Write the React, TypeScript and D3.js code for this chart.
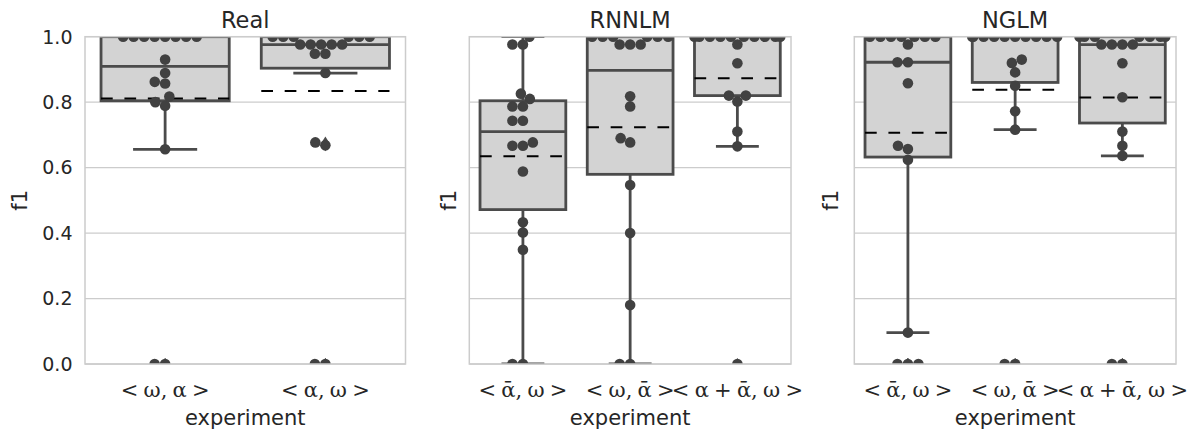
import React from "react";
import * as d3 from "d3";

const W = 1191;
const H = 432;

// ---- tick labels / categories ----
const yTickValues = [0, 0.2, 0.4, 0.6, 0.8, 1.0];
const yTickLabels = ["0.0", "0.2", "0.4", "0.6", "0.8", "1.0"];
const panelTitles = ["Real", "RNNLM", "NGLM"];
const realCategories = ["<\u2005ω,\u2005α\u2005>", "<\u2005α,\u2005ω\u2005>"];
const rnnlmCategories = ["<\u2005ᾱ,\u2005ω\u2005>", "<\u2005ω,\u2005ᾱ\u2005>", "<\u2005α\u2005+\u2005ᾱ,\u2005ω\u2005>"];
const nglmCategories = ["<\u2005ᾱ,\u2005ω\u2005>", "<\u2005ω,\u2005ᾱ\u2005>", "<\u2005α\u2005+\u2005ᾱ,\u2005ω\u2005>"];

// ---- f1 values per run ----
const realOmegaAlpha = [1, 1, 1, 1, 1, 1, 1, 1, 0.93, 0.889, 0.862, 0.857, 0.817, 0.8, 0.789, 0.656, 0, 0];
const realAlphaOmega = [1, 1, 1, 1, 1, 1, 0.976, 0.976, 0.976, 0.976, 0.976, 0.948, 0.948, 0.889, 0.677, 0.668, 0, 0];
const rnnlmAlphaBarOmega = [1, 0.976, 0.976, 0.826, 0.81, 0.787, 0.787, 0.743, 0.743, 0.677, 0.667, 0.667, 0.588, 0.433, 0.402, 0.349, 0, 0];
const rnnlmOmegaAlphaBar = [1, 1, 1, 1, 1, 1, 0.976, 0.976, 0.976, 0.818, 0.787, 0.69, 0.677, 0.547, 0.4, 0.18, 0, 0];
const rnnlmSumOmega = [1, 1, 1, 1, 1, 1, 1, 1, 1, 1, 0.976, 0.919, 0.82, 0.82, 0.802, 0.71, 0.665, 0];
const nglmAlphaBarOmega = [1, 1, 1, 1, 1, 1, 1, 0.976, 0.922, 0.922, 0.858, 0.667, 0.657, 0.624, 0.096, 0, 0, 0];
const nglmOmegaAlphaBar = [1, 1, 1, 1, 1, 1, 1, 1, 1, 1, 0.93, 0.92, 0.891, 0.85, 0.772, 0.716, 0, 0];
const nglmSumOmega = [1, 1, 1, 1, 1, 1, 1, 0.976, 0.976, 0.976, 0.976, 0.919, 0.815, 0.71, 0.667, 0.636, 0, 0];

// ---- layout ----
const plotTop = 36.7;
const plotBottom = 364;
const panels = [
  { title: panelTitles[0], cats: realCategories, groups: [realOmegaAlpha, realAlphaOmega], left: 85, right: 405.5, ylabX: 19.5, ticks: true },
  { title: panelTitles[1], cats: rnnlmCategories, groups: [rnnlmAlphaBarOmega, rnnlmOmegaAlphaBar, rnnlmSumOmega], left: 469.3, right: 791, ylabX: 448.5, ticks: false },
  { title: panelTitles[2], cats: nglmCategories, groups: [nglmAlphaBarOmega, nglmOmegaAlphaBar, nglmSumOmega], left: 854.3, right: 1176, ylabX: 831, ticks: false },
];

const BOX_FILL = "#d3d3d3";
const BOX_LINE = "#4b4b4b";
const DOT = "#414141";
const GRID = "#cccccc";
const TEXT = "#262626";
const DOT_D = 10;

function boxStats(vals: number[]) {
  const s = [...vals].sort(d3.ascending);
  const q1 = d3.quantileSorted(s, 0.25) as number;
  const med = d3.quantileSorted(s, 0.5) as number;
  const q3 = d3.quantileSorted(s, 0.75) as number;
  const iqr = q3 - q1;
  const loF = q1 - 1.5 * iqr;
  const hiF = q3 + 1.5 * iqr;
  const inside = s.filter((v) => v >= loF && v <= hiF);
  const lo = d3.min(inside) as number;
  const hi = d3.max(inside) as number;
  const fliers = s.filter((v) => v < loF || v > hiF);
  const mean = d3.mean(s) as number;
  return { q1, med, q3, lo, hi, fliers, mean };
}

function swarm(values: number[], cx: number, y: (v: number) => number, d: number, halfWidth: number) {
  const pts = values.map((v, i) => ({ v, i, y: y(v) })).sort((a, b) => a.v - b.v || a.i - b.i);
  const placed: { x: number; y: number }[] = [];
  for (const p of pts) {
    const neighbors: { x: number; y: number }[] = [];
    for (let j = placed.length - 1; j >= 0; j--) {
      if (Math.abs(p.y - placed[j].y) < d) neighbors.unshift(placed[j]);
      else break;
    }
    if (neighbors.length === 0) {
      placed.push({ x: cx, y: p.y });
      continue;
    }
    const cands: number[] = [cx];
    let leftFirst = true;
    for (const n of neighbors) {
      const dy = p.y - n.y;
      const dx = Math.sqrt(Math.max(d * d - dy * dy, 0)) * 1.05;
      const cl = n.x - dx;
      const cr = n.x + dx;
      if (leftFirst) cands.push(cl, cr);
      else cands.push(cr, cl);
      leftFirst = !leftFirst;
    }
    const sorted = cands
      .map((x, i) => ({ x, i }))
      .sort((a, b) => {
        const da = Math.abs(a.x - cx);
        const db = Math.abs(b.x - cx);
        if (Math.abs(da - db) > 1e-9) return da - db;
        return a.i - b.i;
      });
    let chosen = sorted[sorted.length - 1].x;
    for (const c of sorted) {
      if (neighbors.every((n) => (n.x - c.x) ** 2 + (n.y - p.y) ** 2 >= d * d - 1e-9)) {
        chosen = c.x;
        break;
      }
    }
    placed.push({ x: chosen, y: p.y });
  }
  return placed.map((p) => ({ x: Math.max(cx - halfWidth, Math.min(cx + halfWidth, p.x)), y: p.y }));
}

function Panel({ cfg, idx }: { cfg: (typeof panels)[number]; idx: number }) {
  const y = d3.scaleLinear().domain([0, 1]).range([plotBottom, plotTop]);
  const x = d3.scaleBand<string>().domain(cfg.cats.map((c, i) => String(i))).range([cfg.left, cfg.right]).paddingInner(0).paddingOuter(0);
  const bw = x.bandwidth();
  const boxW = bw * 0.8;
  const clipId = `clip-${idx}`;
  const midX = (cfg.left + cfg.right) / 2;
  const midY = (plotTop + plotBottom) / 2;
  const diamond = (cx: number, cy: number) => `M${cx},${cy - 6} L${cx + 3.8},${cy} L${cx},${cy + 6} L${cx - 3.8},${cy} Z`;

  return (
    <g>
      <defs>
        <clipPath id={clipId}>
          <rect x={cfg.left} y={plotTop} width={cfg.right - cfg.left} height={plotBottom - plotTop} />
        </clipPath>
      </defs>
      {yTickValues.map((t) => (
        <line key={t} x1={cfg.left} x2={cfg.right} y1={y(t)} y2={y(t)} stroke={GRID} strokeWidth={1.3} />
      ))}
      <g clipPath={`url(#${clipId})`}>
        {cfg.groups.map((vals, gi) => {
          const st = boxStats(vals);
          const cx = (x(String(gi)) as number) + bw / 2;
          const bx = cx - boxW / 2;
          const capW = boxW / 2;
          return (
            <g key={gi}>
              <line x1={cx} x2={cx} y1={y(st.q1)} y2={y(st.lo)} stroke={BOX_LINE} strokeWidth={2.8} />
              <line x1={cx} x2={cx} y1={y(st.q3)} y2={y(st.hi)} stroke={BOX_LINE} strokeWidth={2.8} />
              <line x1={cx - capW / 2} x2={cx + capW / 2} y1={y(st.lo)} y2={y(st.lo)} stroke={BOX_LINE} strokeWidth={2.8} />
              <line x1={cx - capW / 2} x2={cx + capW / 2} y1={y(st.hi)} y2={y(st.hi)} stroke={BOX_LINE} strokeWidth={2.8} />
              <rect x={bx} y={y(st.q3)} width={boxW} height={y(st.q1) - y(st.q3)} fill={BOX_FILL} stroke={BOX_LINE} strokeWidth={2.8} />
              <line x1={bx} x2={bx + boxW} y1={y(st.med)} y2={y(st.med)} stroke={BOX_LINE} strokeWidth={2.8} />
              <line x1={bx} x2={bx + boxW} y1={y(st.mean)} y2={y(st.mean)} stroke="#000" strokeWidth={2} strokeDasharray="11.7 11.7" />
              {st.fliers.map((f, fi) => (
                <path key={fi} d={diamond(cx, y(f))} fill={BOX_LINE} />
              ))}
              {swarm(vals, cx, y, DOT_D, bw * 0.4).map((p, pi) => (
                <circle key={pi} cx={p.x} cy={p.y} r={5.3} fill={DOT} />
              ))}
            </g>
          );
        })}
      </g>
      <rect x={cfg.left} y={plotTop} width={cfg.right - cfg.left} height={plotBottom - plotTop} fill="none" stroke={GRID} strokeWidth={1.5} />
      {cfg.ticks &&
        yTickValues.map((t, i) => (
          <text key={t} x={cfg.left - 12.5} y={y(t)} dy="0.36em" textAnchor="end" fontFamily="DejaVu Sans" fontSize={19} fill={TEXT}>
            {yTickLabels[i]}
          </text>
        ))}
      {cfg.cats.map((c, i) => (
        <text key={i} x={(x(String(i)) as number) + bw / 2} y={397} textAnchor="middle" fontFamily="DejaVu Serif" fontSize={21} fill={TEXT}>
          {c}
        </text>
      ))}
      <text x={midX} y={27.5} textAnchor="middle" fontFamily="DejaVu Sans" fontSize={22.5} fill={TEXT}>
        {cfg.title}
      </text>
      <text x={midX} y={425} textAnchor="middle" fontFamily="DejaVu Sans" fontSize={21} fill={TEXT}>
        experiment
      </text>
      <text transform={`translate(${cfg.ylabX},${midY}) rotate(-90)`} dy="0.35em" textAnchor="middle" fontFamily="DejaVu Sans" fontSize={21} fill={TEXT}>
        f1
      </text>
    </g>
  );
}

export default function App() {
  return (
    <svg width={W} height={H} style={{ position: "absolute", left: 0, top: 0, background: "#fff" }}>
      <rect x={0} y={0} width={W} height={H} fill="#fff" />
      {panels.map((p, i) => (
        <Panel key={i} cfg={p} idx={i} />
      ))}
    </svg>
  );
}
